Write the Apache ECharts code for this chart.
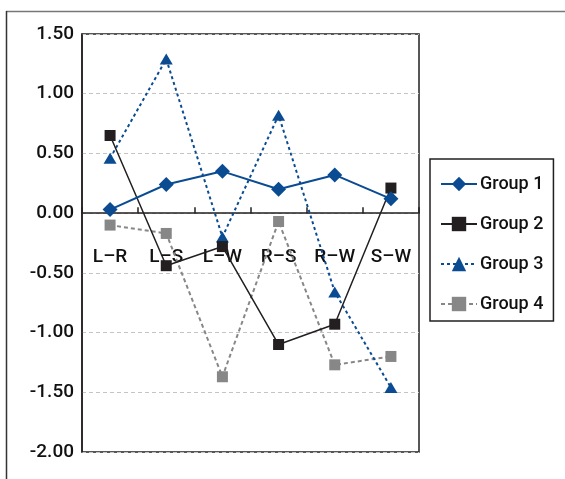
<!DOCTYPE html>
<html>
<head>
<meta charset="utf-8">
<script src="https://cdn.jsdelivr.net/npm/echarts@6/dist/echarts.min.js"></script>
<style>html,body{margin:0;padding:0;background:#fff;}#c{width:565px;height:479px;}</style>
</head>
<body>
<div id="c"></div>
<script>
const categories = ['L\u2013R', 'L\u2013S', 'L\u2013W', 'R\u2013S', 'R\u2013W', 'S\u2013W'];
const group1 = [0.03, 0.24, 0.35, 0.20, 0.32, 0.12];
const group2 = [0.65, -0.44, -0.28, -1.10, -0.93, 0.21];
const group3 = [0.46, 1.29, -0.20, 0.82, -0.66, -1.46];
const group4 = [-0.10, -0.17, -1.37, -0.07, -1.27, -1.20];
const seriesNames = ['Group 1', 'Group 2', 'Group 3', 'Group 4'];

const BLUE = '#0a4b92';
const BLACK = '#231f20';
const GREY = '#878787';
const FONT = 'Roboto, Liberation Sans, Arial, sans-serif';

const chart = echarts.init(document.getElementById('c'));
chart.setOption({
  animation: false,
  backgroundColor: '#fff',
  graphic: [
    { type: 'line', shape: { x1: 6, y1: 11.5, x2: 565, y2: 11.5 }, style: { stroke: '#777', lineWidth: 1.5 }, silent: true },
    { type: 'line', shape: { x1: 6.5, y1: 11, x2: 6.5, y2: 479 }, style: { stroke: '#333', lineWidth: 1.5 }, silent: true }
  ],
  grid: {
    left: 82, right: 146, top: 34, bottom: 27,
    containLabel: false,
    outerBoundsMode: 'none',
    show: true, borderColor: BLACK, borderWidth: 1.5, backgroundColor: 'transparent'
  },
  legend: {
    orient: 'vertical',
    left: 430, top: 159,
    padding: [16, 10, 8, 10],
    itemGap: 22,
    itemWidth: 36, itemHeight: 18,
    borderColor: BLACK, borderWidth: 1.5, borderRadius: 0,
    textStyle: { fontFamily: FONT, fontWeight: 500, fontSize: 18, color: '#111', padding: [0, 0, 0, -2] },
    data: seriesNames
  },
  xAxis: [
    {
      type: 'category',
      data: categories,
      boundaryGap: true,
      axisLine: { onZero: true, lineStyle: { color: BLACK, width: 1.5 } },
      axisTick: { show: true, inside: true, length: 6, lineStyle: { color: BLACK, width: 1.5 } },
      axisLabel: { show: false },
      splitLine: { show: false }
    },
    {
      type: 'category',
      data: categories,
      boundaryGap: true,
      position: 'bottom',
      offset: -238.7,
      axisLine: { show: false, onZero: false },
      axisTick: { show: false },
      axisLabel: { margin: 34, fontFamily: FONT, fontWeight: 500, fontSize: 19, color: '#111' },
      splitLine: { show: false }
    }
  ],
  yAxis: {
    type: 'value',
    min: -2, max: 1.5, interval: 0.5,
    axisLine: { show: true, lineStyle: { color: BLACK, width: 1.5 } },
    axisTick: { show: false },
    axisLabel: { margin: 8, fontFamily: FONT, fontWeight: 500, fontSize: 19, color: '#111', formatter: v => v.toFixed(2) },
    splitLine: { show: true, lineStyle: { color: '#c4c4c4', type: [4, 3], width: 1 } }
  },
  series: [
    {
      name: 'Group 1', type: 'line', data: group1, z: 5,
      symbol: 'diamond', symbolSize: [15, 15],
      lineStyle: { color: BLUE, width: 2 },
      itemStyle: { color: BLUE }
    },
    {
      name: 'Group 2', type: 'line', data: group2, z: 4,
      symbol: 'rect', symbolSize: 11,
      lineStyle: { color: BLACK, width: 1.5 },
      itemStyle: { color: BLACK }
    },
    {
      name: 'Group 3', type: 'line', data: group3, z: 3,
      symbol: 'triangle', symbolSize: [13, 11],
      lineStyle: { color: BLUE, width: 2, type: [3, 3] },
      itemStyle: { color: BLUE }
    },
    {
      name: 'Group 4', type: 'line', data: group4, z: 2,
      symbol: 'rect', symbolSize: 11,
      lineStyle: { color: GREY, width: 2, type: [4, 3] },
      itemStyle: { color: GREY }
    }
  ]
});
</script>
</body>
</html>
